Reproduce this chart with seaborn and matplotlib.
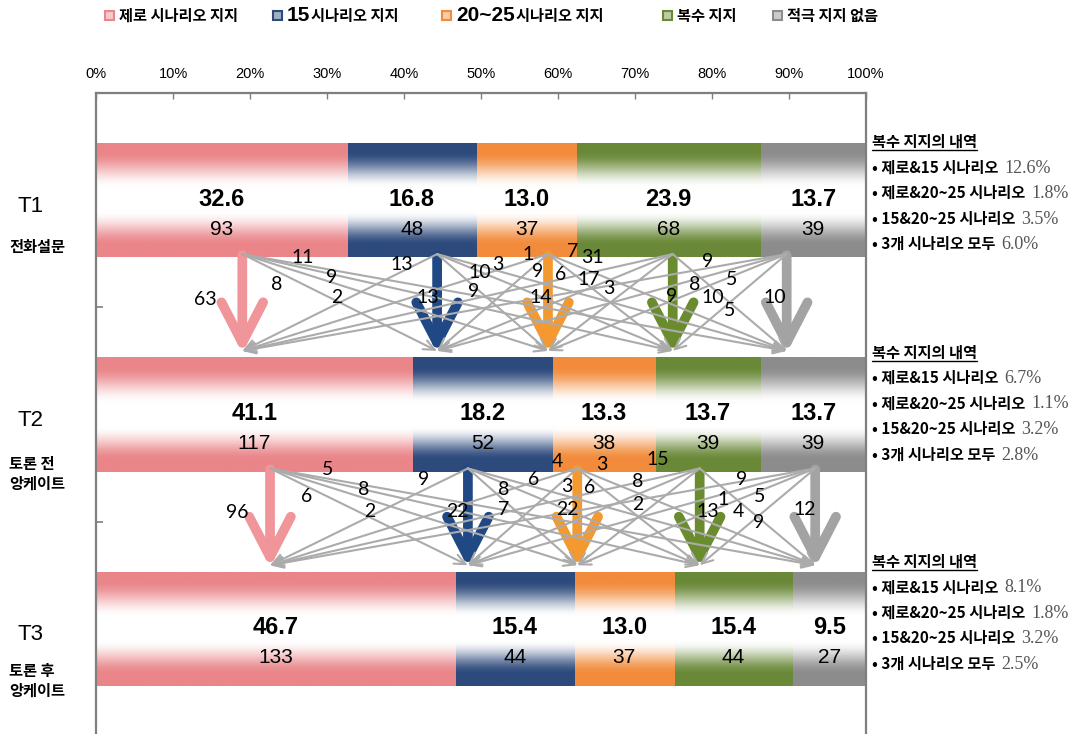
import re
import numpy as np
import pandas as pd
import matplotlib
matplotlib.use("Agg")
import matplotlib.pyplot as plt
import seaborn as sns
from matplotlib.patches import FancyArrowPatch, Rectangle
from matplotlib.lines import Line2D
from matplotlib.colors import to_rgb

# ---------------- data ----------------
stages = ["T1", "T2", "T3"]
stage_notes = ["전화설문", "토론 전\n앙케이트", "토론 후\n앙케이트"]
categories = ["제로 시나리오 지지", "15시나리오 지지", "20~25시나리오 지지", "복수 지지", "적극 지지 없음"]
pct_t1 = [32.6, 16.8, 13.0, 23.9, 13.7]
pct_t2 = [41.1, 18.2, 13.3, 13.7, 13.7]
pct_t3 = [46.7, 15.4, 13.0, 15.4, 9.5]
cnt_t1 = [93, 48, 37, 68, 39]
cnt_t2 = [117, 52, 38, 39, 39]
cnt_t3 = [133, 44, 37, 44, 27]
# rows: from category, cols: to category
flow_t1_t2 = [[63, 8, 2, 9, 11],
              [13, 13, 9, 10, 3],
              [1, 9, 14, 6, 7],
              [31, 17, 3, 9, 8],
              [9, 5, 10, 5, 10]]
flow_t2_t3 = [[96, 6, 2, 8, 5],
              [9, 22, 7, 8, 6],
              [4, 3, 22, 6, 3],
              [15, 8, 2, 13, 1],
              [9, 5, 4, 9, 12]]
multi_title = "복수 지지의 내역"
multi_labels = ["제로&15 시나리오", "제로&20~25 시나리오", "15&20~25 시나리오", "3개 시나리오 모두"]
multi_t1 = [12.6, 1.8, 3.5, 6.0]
multi_t2 = [6.7, 1.1, 3.2, 2.8]
multi_t3 = [8.1, 1.8, 3.2, 2.5]

# ---------------- layout / style ----------------
colors = ["#EA8589", "#2D4A7C", "#F28B3B", "#6A8938", "#8C8C8C"]
arrow_colors = ["#F0959A", "#1F4884", "#F4992F", "#6A8B2E", "#A3A3A3"]
anchors = [[19.0, 44.3, 58.7, 74.9, 89.7],
           [22.6, 48.3, 62.5, 78.4, 93.4]]
# label placement (x in %, fraction of the gap between bars)
label_pos_s1 = [[(14.2, 0.42), (23.5, 0.27), (31.3, 0.40), (30.6, 0.20), (26.9, 0.00)],
                [(39.7, 0.07), (43.1, 0.40), (49.0, 0.34), (49.9, 0.15), (52.2, 0.07)],
                [(56.1, -0.03), (57.4, 0.14), (57.7, 0.40), (60.3, 0.17), (61.9, -0.06)],
                [(64.5, 0.00), (64.0, 0.22), (66.6, 0.31), (74.8, 0.39), (77.8, 0.27)],
                [(79.4, 0.04), (82.5, 0.22), (80.1, 0.40), (82.3, 0.53), (88.2, 0.40)]]
label_pos_s2 = [[(18.3, 0.41), (27.4, 0.25), (35.6, 0.40), (34.7, 0.18), (30.1, -0.02)],
                [(42.6, 0.08), (46.9, 0.40), (52.9, 0.38), (52.9, 0.18), (56.8, 0.08)],
                [(59.9, -0.10), (61.2, 0.15), (61.2, 0.38), (64.1, 0.16), (65.7, -0.07)],
                [(72.9, -0.12), (70.4, 0.10), (70.3, 0.33), (79.4, 0.40), (81.4, 0.28)],
                [(83.9, 0.08), (86.2, 0.25), (83.4, 0.40), (86.0, 0.51), (92.1, 0.38)]]

W, H = 1081, 734
BAR_H = 0.533
KR = ["Noto Sans CJK KR", "DejaVu Sans"]

sns.set_theme(style="white")
plt.rcParams["font.family"] = ["Liberation Sans", "Noto Sans CJK KR", "DejaVu Sans"]
plt.rcParams["text.color"] = "black"
plt.rcParams["xtick.color"] = "black"
plt.rcParams["ytick.color"] = "black"

fig = plt.figure(figsize=(W / 100, H / 100), dpi=100)
ax = fig.add_axes([96 / W, 1 - 736 / H, 770 / W, 643 / H])

pcts = np.array([pct_t1, pct_t2, pct_t3])
cnts = np.array([cnt_t1, cnt_t2, cnt_t3])
cum = np.cumsum(pcts, axis=1)
df = pd.DataFrame({
    "stage": np.repeat(stages, len(categories)),
    "category": categories * len(stages),
    "pct": pcts.ravel(),
    "cum": cum.ravel(),
})

seg_patches = {}
for k in reversed(range(len(categories))):
    sub = df[df["category"] == categories[k]]
    before = len(ax.patches)
    sns.barplot(data=sub, x="cum", y="stage", order=stages, orient="y", color=colors[k],
                width=BAR_H, saturation=1, errorbar=None, edgecolor="none", linewidth=0, ax=ax)
    for p in list(ax.patches)[before:]:
        i = int(round(p.get_y() + p.get_height() / 2))
        p.set_x(cum[i, k] - pcts[i, k])
        p.set_width(pcts[i, k])
        seg_patches[(i, k)] = p

# gradient fill (colour at the edges, white in the middle)
tt = np.linspace(0, 1, 256)
wgt = np.interp(tt, [0, 0.08, 0.40, 0.60, 0.90, 1], [1, 1, 0, 0, 1, 1])
wgt = wgt * wgt * (3 - 2 * wgt)
for (i, k), p in seg_patches.items():
    c = np.array(to_rgb(colors[k]))
    img = (wgt[:, None] * c[None, :] + (1 - wgt[:, None]) * 1.0)[:, None, :]
    x0 = p.get_x(); x1 = x0 + p.get_width()
    y0 = p.get_y(); y1 = y0 + p.get_height()
    im = ax.imshow(img, extent=[x0, x1, y1, y0], aspect="auto", interpolation="bilinear",
                   origin="upper", zorder=2)
    im.set_clip_path(p)

# values in bars
for i in range(len(stages)):
    for k in range(len(categories)):
        xc = cum[i, k] - pcts[i, k] / 2
        ax.text(xc, i - 0.005, f"{pcts[i, k]:.1f}", ha="center", va="center",
                fontsize=17, fontweight="bold", color="black", zorder=5)
        ax.text(xc, i + 0.135, f"{cnts[i, k]}", ha="center", va="center",
                fontsize=15, color="black", zorder=5)

# flows between stages
flows = [flow_t1_t2, flow_t2_t3]
label_pos = [label_pos_s1, label_pos_s2]
for s in range(2):
    y0 = s + BAR_H / 2
    y1 = s + 1 - BAR_H / 2
    gap = y1 - y0
    for r in range(5):
        for c in range(5):
            xs, xt = anchors[s][r], anchors[s][c]
            if r == c:
                arr = FancyArrowPatch((xs, y0 - 0.01), (xt, y1), arrowstyle="->,head_length=29,head_width=15",
                                      mutation_scale=1, lw=7, color=arrow_colors[r], capstyle="round",
                                      joinstyle="round", shrinkA=0, shrinkB=3, zorder=3)
            else:
                arr = FancyArrowPatch((xs, y0 - 0.015), (xt, y1 - 0.03), arrowstyle="->,head_length=8,head_width=3.5",
                                      mutation_scale=1, lw=1.5, color="#ABABAB", shrinkA=0, shrinkB=0, zorder=4)
            ax.add_patch(arr)
            lx, lf = label_pos[s][r][c]
            ax.text(lx, y0 + lf * gap, str(flows[s][r][c]), ha="center", va="center",
                    fontsize=14, family=["Lato", "DejaVu Sans"], color="black", zorder=6)

ax.set_xlim(0, 100)
ax.set_ylim(2.5, -0.5)
ax.set_xlabel("")
ax.set_ylabel("")
for sp in ax.spines.values():
    sp.set_color("#7F7F7F")
    sp.set_linewidth(1.6)
ax.xaxis.tick_top()
ax.set_xticks(np.arange(0, 101, 10))
ax.set_xticklabels([f"{v}%" for v in range(0, 101, 10)])
ax.tick_params(axis="x", direction="in", length=4, width=1, color="#7F7F7F", labelcolor="black",
               pad=9, labelsize=10.5, top=True, bottom=False, labeltop=True, labelbottom=False)
ax.set_yticks([0.5, 1.5])
ax.set_yticklabels([])
ax.tick_params(axis="y", direction="in", length=5, width=1.2, color="#7F7F7F", left=True)

renderer = fig.canvas.get_renderer()


def center_px(i):
    return H - ax.transData.transform((0, i))[1]


# stage labels on the left
note_off = [47, 49, 42]
for i, (st, note) in enumerate(zip(stages, stage_notes)):
    yc = center_px(i)
    fig.text(17 / W, 1 - (yc + 6) / H, st, fontsize=16, va="center", ha="left")
    for j, line in enumerate(note.split("\n")):
        fig.text(9 / W, 1 - (yc + note_off[i] + 20 * j) / H, line, family=KR,
                 fontweight="bold", fontsize=11, va="center", ha="left")

# breakdown of multiple support on the right
title_off = [-58, -62, -67]
multi = [multi_t1, multi_t2, multi_t3]
for i in range(3):
    yc = center_px(i)
    yb = yc + title_off[i] + 5
    t = fig.text(872 / W, 1 - yb / H, multi_title, family=KR, fontweight="bold",
                 fontsize=11, va="baseline", ha="left")
    bb = t.get_window_extent(renderer)
    fig.add_artist(Line2D([bb.x0 / W, bb.x1 / W], [(H - yb - 3) / H] * 2,
                          transform=fig.transFigure, color="black", lw=1))
    for j in range(4):
        yy = yb + 25.5 * (j + 1)
        t = fig.text(872 / W, 1 - yy / H, "• " + multi_labels[j], family=KR, fontweight="bold",
                     fontsize=11, va="baseline", ha="left")
        bb = t.get_window_extent(renderer)
        fig.text((bb.x1 + 6) / W, 1 - yy / H, f"{multi[i][j]:.1f}%",
                 family=["Liberation Serif", "DejaVu Serif"], fontsize=13, color="#555555",
                 va="baseline", ha="left")

# legend
leg_sq = [105, 273, 442, 663, 773]
leg_base = 21
for k, cat in enumerate(categories):
    x = leg_sq[k]
    c = np.array(to_rgb(colors[k]))
    fig.add_artist(Rectangle((x / W, (H - 20) / H), 9 / W, 9 / H, transform=fig.transFigure,
                             facecolor=0.45 * c + 0.55, edgecolor=colors[k], lw=1.5))
    x += 14
    m = re.match(r"^([0-9~]+)(.*)$", cat)
    runs = [(m.group(1), dict(family=["Liberation Sans"], fontsize=15, fontweight="bold")),
            (m.group(2), dict(family=KR, fontsize=11, fontweight="bold"))] if m else \
           [(cat, dict(family=KR, fontsize=11, fontweight="bold"))]
    for txt, kw in runs:
        t = fig.text(x / W, 1 - leg_base / H, txt, va="baseline", ha="left", **kw)
        x += t.get_window_extent(renderer).width + 1

fig.savefig("out.png", dpi=100)
